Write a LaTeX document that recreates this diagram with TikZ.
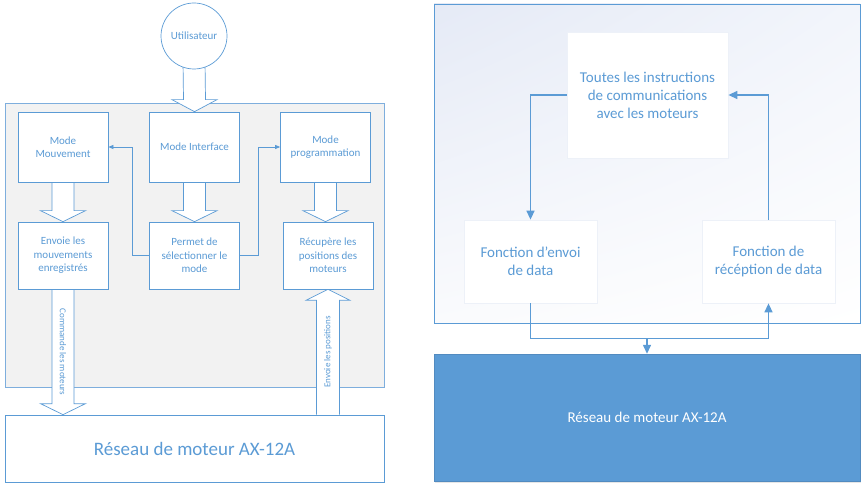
\documentclass[tikz,border=0pt]{standalone}
\usepackage{fontspec}
\setmainfont{Carlito}
\usetikzlibrary{arrows.meta,calc,shadows,shadings}
\definecolor{bl}{HTML}{5B9BD5}
\definecolor{bll}{HTML}{7EAEDD}
\definecolor{grayf}{HTML}{F2F2F2}
\definecolor{faint}{HTML}{EDF1F8}
\pgfdeclarelayer{back}
\pgfdeclarelayer{mid}
\pgfsetlayers{back,mid,main}
\begin{document}
\begin{tikzpicture}[x=1pt,y=-1pt,
  box/.style={draw=bl, fill=white, line width=0.7pt, minimum width=90pt, minimum height=70pt,
    align=center, text=bl, font=\fontsize{11}{13.5}\selectfont, inner sep=0pt},
  blk/.style={draw=bl, fill=white, line width=0.7pt, line join=miter},
  thinarr/.style={draw=bl, line width=0.7pt, -{Triangle[length=5pt,width=4pt]}},
  thick arr/.style={draw=bl, line width=1.4pt, -{Triangle[length=9pt,width=8pt]}},
  rbox/.style={draw=faint, fill=white, line width=0.8pt, align=center, text=bl,
    font=\fontsize{15}{18}\selectfont, inner sep=0pt},
  vlab/.style={text=bl, font=\fontsize{9}{10}\selectfont, inner sep=0pt}
]
\useasboundingbox (0,0) rectangle (868,497);

% ---------------- left part ----------------
\begin{pgfonlayer}{back}
\node[draw=bll, fill=grayf, line width=0.7pt, minimum width=379pt, minimum height=284pt, inner sep=0pt] (gc) at (194.5,245) {};
\end{pgfonlayer}

\node[draw=bl, fill=white, circle, line width=0.7pt, minimum size=66pt, inner sep=0pt, text=bl,
  font=\fontsize{11}{13}\selectfont] (user) at (194,36) {Utilisateur};

\node[box] (mm) at (63,147) {Mode\\Mouvement};
\node[box] (mi) at (194.5,147) {Mode Interface};
\node[box] (mp) at (325.5,147) {Mode\\programmation};
\node[box, minimum height=67pt] (ev) at (63,255.5) {Envoie les\\mouvements\\enregistrés};
\node[box, minimum height=67pt] (pm) at (194.5,255.5) {Permet de\\sélectionner le\\mode};
\node[box, minimum height=67pt] (rc) at (328,255.5) {Récupère les\\positions des\\moteurs};
\node[box, minimum width=379pt, minimum height=67pt, font=\fontsize{19}{22}\selectfont] (net) at (194.5,448.5) {Réseau de moteur AX-12A};

\begin{pgfonlayer}{mid}
% user -> mode interface
\draw[blk] ($(user.south)+(-11,-8)$) -- ($(mi.north)+(-11,-12)$) -- ($(mi.north)+(-22.5,-12)$) -- (mi.north)
  -- ($(mi.north)+(22.5,-12)$) -- ($(mi.north)+(11,-12)$) -- ($(user.south)+(11,-8)$);
% mm -> ev
\draw[blk] ($(mm.south)+(-11,0)$) -- ($(ev.north)+(-11,-11)$) -- ($(ev.north)+(-22.5,-11)$) -- (ev.north)
  -- ($(ev.north)+(22.5,-11)$) -- ($(ev.north)+(11,-11)$) -- ($(mm.south)+(11,0)$);
% mi -> pm
\draw[blk] ($(mi.south)+(-11,0)$) -- ($(pm.north)+(-11,-11)$) -- ($(pm.north)+(-22.5,-11)$) -- (pm.north)
  -- ($(pm.north)+(22.5,-11)$) -- ($(pm.north)+(11,-11)$) -- ($(mi.south)+(11,0)$);
% mp -> rc
\draw[blk] ($(mp.south)+(-11,0)$) -- ($(mp.south|-rc.north)+(-11,-11)$) -- ($(mp.south|-rc.north)+(-22.5,-11)$) -- (mp.south|-rc.north)
  -- ($(mp.south|-rc.north)+(22.5,-11)$) -- ($(mp.south|-rc.north)+(11,-11)$) -- ($(mp.south)+(11,0)$);
% ev -> net
\draw[blk] ($(ev.south)+(-11,0)$) -- ($(ev.south|-net.north)+(-11,-11)$) -- ($(ev.south|-net.north)+(-22.5,-11)$) -- (ev.south|-net.north)
  -- ($(ev.south|-net.north)+(22.5,-11)$) -- ($(ev.south|-net.north)+(11,-11)$) -- ($(ev.south)+(11,0)$);
% net -> rc
\draw[blk] ($(rc.south|-net.north)+(-11.5,0)$) -- ($(rc.south)+(-11.5,11)$) -- ($(rc.south)+(-22,11)$) -- (rc.south)
  -- ($(rc.south)+(22,11)$) -- ($(rc.south)+(11.5,11)$) -- ($(rc.south|-net.north)+(11.5,0)$);
\end{pgfonlayer}

\node[vlab, rotate=-90] (lcmd) at ($(ev.south)!0.5!(ev.south|-net.north)$) {Commande les moteurs};
\node[vlab, rotate=90] (lpos) at ($(rc.south)!0.5!(rc.south|-net.north)$) {Envoie les positions};

\draw[thinarr] (pm.west) -- ++(-17,0) |- (mm.east);
\draw[thinarr] (pm.east) -- ++(18,0) |- (mp.west);

% ---------------- right part ----------------
\begin{pgfonlayer}{back}
\node[draw=bl, line width=0.9pt, minimum width=426pt, minimum height=319pt, inner sep=0pt,
  upper left={rgb,255:red,229;green,234;blue,246}, upper right={rgb,255:red,242;green,245;blue,251},
  lower left={rgb,255:red,250;green,251;blue,253}, lower right=white] (outer) at (647,163.5) {};
\end{pgfonlayer}

\node[rbox, minimum width=161pt, minimum height=126pt] (tout) at (647.5,95)
  {Toutes les instructions\\de communications\\avec les moteurs};
\node[rbox, minimum width=133pt, minimum height=83pt] (envoi) at (530.5,261.5) {Fonction d’envoi\\de data};
\node[rbox, minimum width=133pt, minimum height=83pt] (recep) at (768.5,261.5) {Fonction de\\récéption de data};
\node[fill=bl, draw=bl!90!black, line width=0.4pt, minimum width=426pt, minimum height=127pt, inner sep=0pt,
  text=white, font=\fontsize{15}{18}\selectfont,
  drop shadow={opacity=0.2, shadow xshift=1pt, shadow yshift=-2pt}] (blue) at (647,417.5) {Réseau de moteur AX-12A};

\draw[thick arr] (tout.west) -| (envoi.north);
\draw[thick arr] (recep.north) |- (tout.east);
\path (envoi.south) ++(0,35) coordinate (bend);
\draw[thick arr] (envoi.south) -- (bend) -| (recep.south);
\draw[thick arr] (bend -| blue.north) -- (blue.north);
\end{tikzpicture}
\end{document}
